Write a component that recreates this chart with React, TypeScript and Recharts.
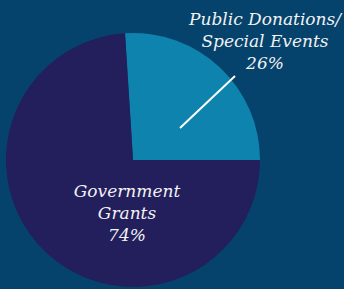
import React from 'react';
import { PieChart, Pie, Cell } from 'recharts';

const categories = ['Public Donations/|Special Events', 'Government|Grants'];
const values = [26, 74];
const colors = ['#0d83ad', '#231e5c'];

const data = categories.map((c, i) => ({ name: c, value: values[i] }));

const W = 344;
const H = 289;
const CX = 133;
const CY = 160;
const R = 127;
const START = 90 + 360 * values[0] / 100 / 2 * 0 + 3.6;

const FONT = '"DejaVu Serif", Georgia, serif';

const labelLayout = [
  { x: 265, y: 25, line: [[47, -32], [102, -84]] },
  { x: 127, y: 197, line: null },
];

const renderLabel = (props: any) => {
  const { index, name, value } = props;
  const lay = labelLayout[index];
  const lines = String(name).split('|').concat([`${value}%`]);
  return (
    <g key={`lbl-${index}`}>
      {lay.line && (
        <line
          x1={CX + lay.line[0][0]}
          y1={CY + lay.line[0][1]}
          x2={CX + lay.line[1][0]}
          y2={CY + lay.line[1][1]}
          stroke="#ffffff"
          strokeWidth={2}
        />
      )}
      <text
        x={lay.x}
        y={lay.y}
        textAnchor="middle"
        fill="#f2f2f2"
        fontFamily={FONT}
        fontStyle="italic"
        fontSize={17}
      >
        {lines.map((l, i) => (
          <tspan key={i} x={lay.x} dy={i === 0 ? 0 : 22}>
            {l}
          </tspan>
        ))}
      </text>
    </g>
  );
};

export default function App() {
  return (
    <div
      style={{
        position: 'absolute',
        left: 0,
        top: 0,
        width: W,
        height: H,
        background: '#05426c',
        overflow: 'hidden',
      }}
    >
      <PieChart width={W} height={H} margin={{ top: 0, right: 0, bottom: 0, left: 0 }}>
        <Pie
          data={data}
          dataKey="value"
          nameKey="name"
          cx={CX}
          cy={CY}
          outerRadius={R}
          startAngle={START}
          endAngle={START - 360}
          stroke="none"
          label={renderLabel}
          labelLine={false}
          isAnimationActive={false}
        >
          {data.map((d, i) => (
            <Cell key={i} fill={colors[i]} />
          ))}
        </Pie>
      </PieChart>
    </div>
  );
}
